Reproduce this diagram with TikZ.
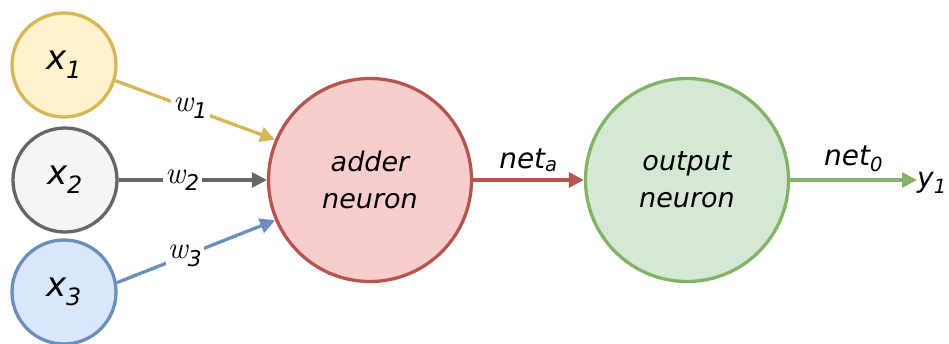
\documentclass[tikz,border=0pt]{standalone}
\usepackage{fontspec}
\setmainfont{DejaVu Sans}
\newfontfamily\lmfont{Latin Modern Roman}
\usetikzlibrary{arrows.meta}
\definecolor{ystroke}{HTML}{D6B656}\definecolor{yfill}{HTML}{FFF2CC}
\definecolor{gstroke}{HTML}{666666}\definecolor{gfill}{HTML}{F5F5F5}
\definecolor{bstroke}{HTML}{6C8EBF}\definecolor{bfill}{HTML}{DAE8FC}
\definecolor{rstroke}{HTML}{B85450}\definecolor{rfill}{HTML}{F8CECC}
\definecolor{vstroke}{HTML}{82B366}\definecolor{vfill}{HTML}{D5E8D4}
\newcommand{\wlabel}[1]{{\lmfont\itshape w}\textsubscript{\itshape #1}}
\tikzset{
  inp/.style={circle, line width=3.3pt, minimum size=104pt, inner sep=0pt, text=black, font=\fontsize{34}{40}\selectfont\itshape},
  neur/.style={circle, line width=3.3pt, minimum size=203pt, inner sep=0pt, align=center, text=black, font=\fontsize{27}{37}\selectfont\itshape},
  conn/.style={line width=3.3pt, -{Triangle[length=15pt,width=15pt]}},
  wlab/.style={fill=white, inner sep=2pt, text=black, font=\fontsize{31}{34}\selectfont},
  nlab/.style={text=black, font=\fontsize{28}{32}\selectfont\itshape}
}
\begin{document}
\begin{tikzpicture}[x=1pt,y=-1pt]
\useasboundingbox (0,0) rectangle (949,343);
\node[inp, draw=ystroke, fill=yfill] (x1) at (64,65) {x\textsubscript{1}};
\node[inp, draw=gstroke, fill=gfill] (x2) at (65,180) {x\textsubscript{2}};
\node[inp, draw=bstroke, fill=bfill] (x3) at (64,292) {x\textsubscript{3}};
\node[neur, draw=rstroke, fill=rfill] (add) at (370,180) {adder\\neuron};
\node[neur, draw=vstroke, fill=vfill] (out) at (687,180) {output\\neuron};
\node[nlab, anchor=west, inner sep=0pt] (y1) at (917,183) {y\textsubscript{1}};
\draw[conn, ystroke] (x1.-17) -- node[wlab, pos=0.47] {\wlabel{1}} (add.157);
\draw[conn, gstroke] (x2.east) -- node[wlab, pos=0.43] {\wlabel{2}} (add.west);
\draw[conn, bstroke] (x3.10) -- node[wlab, pos=0.43] {\wlabel{3}} (add.203);
\draw[conn, rstroke] (add.east) -- node[nlab, above=3pt] {net\textsubscript{a}} (out.west);
\draw[conn, vstroke] (out.east) -- node[nlab, above=3pt] {net\textsubscript{0}} (out.east -| y1.west);
\end{tikzpicture}
\end{document}
